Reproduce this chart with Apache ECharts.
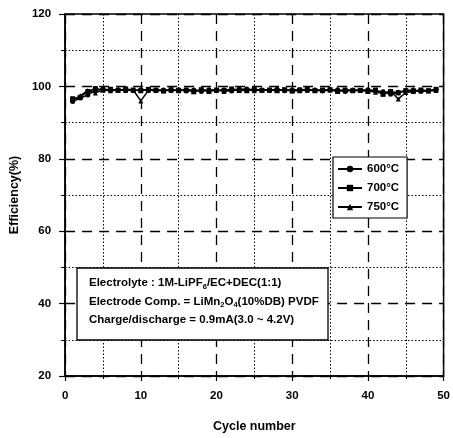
<!DOCTYPE html>
<html><head><meta charset="utf-8">
<script src="https://cdn.jsdelivr.net/npm/echarts@6/dist/echarts.min.js"></script>
<style>html,body{margin:0;padding:0;background:#fff}#c{width:453px;height:438px}</style>
</head><body><div id="c"></div>
<script>
const cycles = Array.from({length: 49}, (_, i) => i + 1);
const seriesNames = ['600°C', '700°C', '750°C'];
const s600 = [95.8, 96.8, 97.6, 98.9, 99.2, 99.0, 99.1, 99.0, 98.9, 99.1, 99.0, 98.8, 99.0, 98.9, 99.1, 98.7, 99.0, 98.6, 99.1, 98.8, 99.0, 98.7, 99.2, 99.3, 99.1, 99.0, 98.9, 99.2, 98.8, 99.0, 99.1, 98.9, 99.0, 98.7, 99.0, 99.1, 98.6, 99.0, 98.9, 99.1, 98.8, 98.5, 97.8, 98.4, 98.9, 99.0, 98.6, 98.8, 99.1];
const s700 = [96.6, 97.0, 98.6, 99.4, 99.0, 99.2, 98.9, 99.3, 99.0, 98.8, 99.2, 99.0, 98.7, 99.1, 98.9, 99.0, 98.5, 99.1, 98.6, 99.0, 98.9, 99.3, 99.0, 98.8, 99.2, 98.9, 99.0, 98.8, 99.1, 98.7, 99.0, 99.2, 98.8, 99.0, 99.1, 98.6, 99.0, 98.8, 98.9, 98.6, 99.0, 97.8, 98.6, 98.2, 98.8, 98.7, 99.0, 98.8, 99.2];
const s750 = [96.2, 97.4, 98.9, 98.2, 99.0, 98.8, 99.0, 98.9, 99.0, 96.0, 98.9, 99.1, 98.9, 99.0, 98.8, 99.2, 98.8, 99.0, 98.9, 99.1, 98.6, 99.0, 98.9, 99.1, 98.8, 99.0, 99.1, 98.9, 99.0, 98.9, 98.8, 99.0, 99.1, 98.9, 99.0, 98.8, 99.1, 98.9, 99.0, 98.8, 98.4, 98.2, 98.7, 96.5, 98.3, 98.6, 98.9, 98.7, 98.9];
const seriesValues = [s600, s700, s750];
const seriesSymbols = ['circle', 'rect', 'triangle'];
const annotationLines = [
  'Electrolyte : 1M-LiPF{s|6}/EC+DEC(1:1)',
  'Electrode Comp. = LiMn{s|2}O{s|4}(10%DB) PVDF',
  'Charge/discharge = 0.9mA(3.0 ~ 4.2V)'
];

const FONT = 'Liberation Sans';
const chart = echarts.init(document.getElementById('c'));
const majorLine = {show: true, lineStyle: {color: '#000', width: 1.3, type: [10, 7]}};
const minorLine = {show: true, lineStyle: {color: '#000', width: 1, type: [1.5, 2]}};
chart.setOption({
  animation: false,
  backgroundColor: '#fff',
  textStyle: {fontFamily: FONT},
  grid: {left: 65, right: 8, top: 14, bottom: 60, show: true, borderColor: '#000', borderWidth: 1.5},
  legend: {
    data: seriesNames,
    orient: 'vertical', left: 333, top: 157,
    itemWidth: 24, itemHeight: 8, itemGap: 7,
    padding: [6, 8, 5, 4],
    borderColor: '#000', borderWidth: 1.2, backgroundColor: '#fff',
    textStyle: {fontFamily: FONT, fontWeight: 'bold', fontSize: 11.5, color: '#000'}
  },
  xAxis: {
    type: 'value', min: 0, max: 50, interval: 10,
    name: 'Cycle number', nameLocation: 'middle', nameGap: 44,
    nameTextStyle: {fontFamily: FONT, fontSize: 12.5, fontWeight: 'bold', color: '#000'},
    axisLine: {show: true, lineStyle: {color: '#000', width: 1.5}},
    axisTick: {show: true, length: 5, lineStyle: {color: '#000', width: 1.2}},
    minorTick: {show: true, splitNumber: 2, length: 3, lineStyle: {color: '#000'}},
    axisLabel: {margin: 14, fontFamily: FONT, fontWeight: 'bold', fontSize: 11.5, color: '#000'},
    splitLine: majorLine, minorSplitLine: minorLine
  },
  yAxis: {
    type: 'value', min: 20, max: 120, interval: 20,
    name: 'Efficiency(%)', nameLocation: 'middle', nameGap: 41,
    nameTextStyle: {fontFamily: FONT, fontSize: 12.5, fontWeight: 'bold', color: '#000'},
    axisLine: {show: true, lineStyle: {color: '#000', width: 1.5}},
    axisTick: {show: true, length: 6, lineStyle: {color: '#000', width: 1.2}},
    minorTick: {show: true, splitNumber: 2, length: 4, lineStyle: {color: '#000'}},
    axisLabel: {margin: 14, fontFamily: FONT, fontWeight: 'bold', fontSize: 11.5, color: '#000'},
    splitLine: majorLine, minorSplitLine: minorLine
  },
  series: seriesValues.map((vals, i) => ({
    name: seriesNames[i],
    type: 'line',
    data: vals.map((v, j) => [cycles[j], v]),
    symbol: seriesSymbols[i], symbolSize: 5, showSymbol: true,
    itemStyle: {color: '#000'},
    lineStyle: {color: '#000', width: 1.5},
    z: 5
  })),
  graphic: [
    {type: 'rect', z: 100, zlevel: 1, shape: {x: 77, y: 268, width: 251, height: 72},
     style: {fill: '#fff', stroke: '#000', lineWidth: 1.3}},
    ...annotationLines.map((t, i) => ({
      type: 'text', z: 101, zlevel: 1, x: 89, y: 283 + i * 18.5,
      style: {
        text: t, fill: '#000', fontFamily: FONT, fontWeight: 'bold', fontSize: 11.5,
        verticalAlign: 'middle', lineHeight: 15,
        rich: {s: {fontFamily: FONT, fontWeight: 'bold', fontSize: 7.5, lineHeight: 15, verticalAlign: 'bottom', padding: [5, 0, 0, 0]}}
      }
    }))
  ]
});
</script></body></html>
